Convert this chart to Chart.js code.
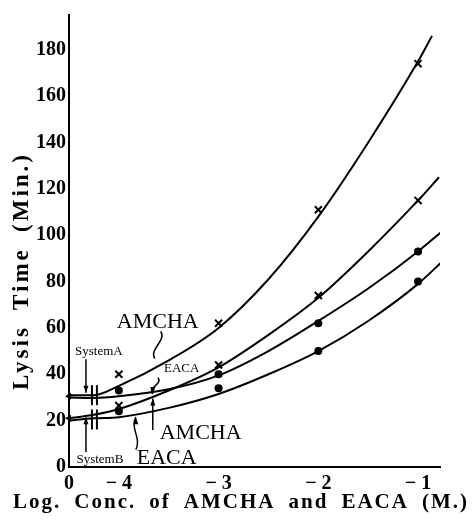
<!DOCTYPE html>
<html><head><meta charset="utf-8">
<script src="https://cdn.jsdelivr.net/npm/chart.js@4/dist/chart.umd.min.js"></script>
<style>html,body{margin:0;padding:0;background:#fff}#wrap{width:473px;height:521px}</style>
</head><body><div id="wrap"><canvas id="c" width="473" height="521"></canvas></div>
<script>
// Broken log axis: concentration 0 is placed at position -4.5
const xTickValues = [-4.5, -4, -3, -2, -1];
const xTickLabels = ['0', '\u2212 4', '\u2212 3', '\u2212 2', '\u2212 1'];
const yTickValues = [0, 20, 40, 60, 80, 100, 120, 140, 160, 180];

// fitted curves
const curveX_A_AMCHA = [-4.5, -4.25, -4.0, -3.5, -3.0, -2.5, -2.0, -1.5, -1.0, -0.86];
const curveY_A_AMCHA = [31, 31, 35, 46, 60, 81, 108, 140, 175, 186];
const curveX_B_AMCHA = [-4.5, -4.25, -4.0, -3.5, -3.0, -2.5, -2.0, -1.5, -1.0, -0.79];
const curveY_B_AMCHA = [21, 22.5, 25, 33, 43, 57, 73, 93, 115, 125];
const curveX_A_EACA = [-4.5, -4.25, -4.0, -3.5, -3.0, -2.5, -2.0, -1.5, -1.0, -0.75];
const curveY_A_EACA = [30, 29.8, 30.5, 33.5, 39.5, 50, 63, 77, 93, 102];
const curveX_B_EACA = [-4.5, -4.25, -4.0, -3.5, -3.0, -2.5, -2.0, -1.5, -1.0, -0.75];
const curveY_B_EACA = [20, 21, 21.5, 25.5, 31.5, 40, 50, 63, 79, 89];

// measured points
const pointX = [-4, -3, -2, -1];
const pts_A_AMCHA = [40, 62, 111, 174];
const pts_B_AMCHA = [26.5, 44, 74, 115];
const pts_A_EACA = [33, 40, 62, 93];
const pts_B_EACA = [24, 34, 50, 80];
const zeroX = [-4.5, -4.5];
const zeroY = [30.5, 21];

// axis break marks
const breakX = [-4.27, -4.22];
const breakY = [31, 20.5];

const zip = (xs, ys) => xs.map((x, i) => ({x: x, y: ys[i]}));
const FONT = "'Liberation Serif', 'Times New Roman', serif";

const curveStyle = {borderColor: '#000', borderWidth: 2, pointRadius: 0, fill: false, cubicInterpolationMode: 'monotone', showLine: true};
const breakPts = [];
breakY.forEach(y => breakX.forEach(x => breakPts.push({x: x, y: y})));

// annotation texts & leader lines (data coordinates)
const annoTexts = [
  {t: 'AMCHA', x: -3.61, y: 62.5, size: 22},
  {t: 'AMCHA', x: -3.18, y: 14.5, size: 22},
  {t: 'EACA', x: -3.52, y: 3.8, size: 22},
  {t: 'EACA', x: -3.37, y: 42.3, size: 13},
  {t: 'SystemA', x: -4.2, y: 49.6, size: 13},
  {t: 'SystemB', x: -4.19, y: 3.2, size: 13}
];
const annoLines = [
  {from: [-3.58, 58.5], to: [-3.64, 46.8], wavy: true, head: false},
  {from: [-3.61, 38.5], to: [-3.66, 31.5], wavy: true, head: true},
  {from: [-3.66, 16], to: [-3.66, 29.5], wavy: false, head: true},
  {from: [-3.83, 7.5], to: [-3.83, 21.5], wavy: true, head: true},
  {from: [-4.33, 46.5], to: [-4.33, 32], wavy: false, head: true},
  {from: [-4.33, 6.5], to: [-4.33, 21.5], wavy: false, head: true}
];

const annoPlugin = {
  id: 'anno',
  afterDatasetsDraw(chart) {
    const ctx = chart.ctx, xs = chart.scales.x, ys = chart.scales.y;
    ctx.save();
    ctx.fillStyle = '#000'; ctx.strokeStyle = '#000';
    ctx.textAlign = 'center'; ctx.textBaseline = 'middle';
    annoTexts.forEach(a => {
      ctx.font = a.size + 'px ' + FONT;
      ctx.fillText(a.t, xs.getPixelForValue(a.x), ys.getPixelForValue(a.y));
    });
    ctx.lineWidth = 1.5;
    annoLines.forEach(l => {
      const x1 = xs.getPixelForValue(l.from[0]), y1 = ys.getPixelForValue(l.from[1]);
      const x2 = xs.getPixelForValue(l.to[0]), y2 = ys.getPixelForValue(l.to[1]);
      ctx.beginPath(); ctx.moveTo(x1, y1);
      if (l.wavy) {
        const dy = y2 - y1;
        ctx.bezierCurveTo(x1 + 6, y1 + dy * 0.35, x2 - 6, y2 - dy * 0.35, x2, y2);
      } else ctx.lineTo(x2, y2);
      ctx.stroke();
      if (l.head) {
        const dir = Math.sign(y2 - y1);
        ctx.beginPath();
        ctx.moveTo(x2, y2); ctx.lineTo(x2 - 2.5, y2 - dir * 7); ctx.lineTo(x2 + 2.5, y2 - dir * 7);
        ctx.closePath(); ctx.fill();
      }
    });
    // axis titles
    const fit = (text, target, ls) => {
      ctx.letterSpacing = ls + 'px';
      ctx.wordSpacing = '0px';
      const w = ctx.measureText(text).width;
      const gaps = (text.match(/ /g) || []).length;
      ctx.wordSpacing = Math.max(0, (target - w) / gaps) + 'px';
    };
    ctx.textAlign = 'left';
    ctx.font = 'bold 21px ' + FONT;
    const xt = 'Log. Conc. of AMCHA and EACA (M.)';
    fit(xt, 456, 2);
    ctx.fillText(xt, 13, 503);
    ctx.save();
    ctx.translate(22, 271); ctx.rotate(-Math.PI / 2);
    ctx.font = 'bold 23px ' + FONT;
    const yt = 'Lysis Time (Min.)';
    fit(yt, 238, 3);
    ctx.fillText(yt, -119, 0);
    ctx.restore();
    ctx.restore();
  }
};

new Chart(document.getElementById('c'), {
  type: 'line',
  data: {
    datasets: [
      Object.assign({data: zip(curveX_A_AMCHA, curveY_A_AMCHA)}, curveStyle),
      Object.assign({data: zip(curveX_B_AMCHA, curveY_B_AMCHA)}, curveStyle),
      Object.assign({data: zip(curveX_A_EACA, curveY_A_EACA)}, curveStyle),
      Object.assign({data: zip(curveX_B_EACA, curveY_B_EACA)}, curveStyle),
      {data: zip(pointX, pts_A_AMCHA), showLine: false, pointStyle: 'crossRot', pointRadius: 5, borderWidth: 2, borderColor: '#000'},
      {data: zip(pointX, pts_B_AMCHA), showLine: false, pointStyle: 'crossRot', pointRadius: 5, borderWidth: 2, borderColor: '#000'},
      {data: zip(pointX, pts_A_EACA), showLine: false, pointStyle: 'circle', pointRadius: 4, borderWidth: 0, backgroundColor: '#000', borderColor: '#000'},
      {data: zip(pointX, pts_B_EACA), showLine: false, pointStyle: 'circle', pointRadius: 4, borderWidth: 0, backgroundColor: '#000', borderColor: '#000'},
      {data: zip(zeroX, zeroY), showLine: false, pointStyle: 'triangle', rotation: -90, pointRadius: 4, borderWidth: 0, backgroundColor: '#000', borderColor: '#000', clip: false},
      {data: breakPts, showLine: false, pointStyle: 'line', rotation: 90, pointRadius: 10, borderWidth: 2, borderColor: '#000'}
    ]
  },
  options: {
    responsive: false, devicePixelRatio: 1, animation: false,
    layout: {padding: {top: 10, right: 33, left: 0, bottom: 0}},
    plugins: {legend: {display: false}, tooltip: {enabled: false}},
    scales: {
      x: {
        type: 'linear', min: -4.5, max: -0.78,
        afterBuildTicks: s => { s.ticks = xTickValues.map(v => ({value: v})); },
        afterFit: s => { s.height = 54; },
        ticks: {
          autoSkip: false, maxRotation: 0, padding: 5, color: '#000',
          font: {family: FONT, size: 20, weight: 'bold'},
          callback: v => xTickLabels[xTickValues.indexOf(v)]
        },
        grid: {display: false, drawTicks: false},
        border: {display: true, color: '#000', width: 2}
      },
      y: {
        type: 'linear', min: 0, max: 195,
        afterBuildTicks: s => { s.ticks = yTickValues.map(v => ({value: v})); },
        afterFit: s => { s.width = 69; },
        ticks: {
          padding: 3, color: '#000',
          font: {family: FONT, size: 20, weight: 'bold'}
        },
        grid: {display: false, drawTicks: false},
        border: {display: true, color: '#000', width: 2}
      }
    }
  },
  plugins: [annoPlugin]
});
</script></body></html>
